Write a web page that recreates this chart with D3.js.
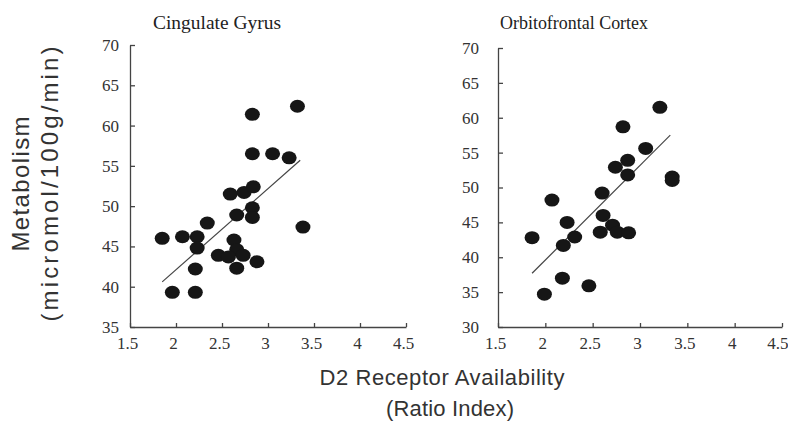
<!DOCTYPE html>
<html lang="en">
<head>
<meta charset="UTF-8">
<title>D2 Receptor Availability vs Metabolism</title>
<script src="https://d3js.org/d3.v7.min.js"></script>
<style>
  body { margin: 0; background: #fff; }
  .tick text { font-family: "Liberation Serif", serif; font-size: 17px; fill: #333; }
  .axis path, .axis line { stroke: #444; stroke-width: 1.3; }
  .title { font-family: "Liberation Serif", serif; font-size: 18px; fill: #222; }
  .label { font-family: "Liberation Sans", sans-serif; font-size: 22px; fill: #333; }
  .ylabel { font-family: "Liberation Sans", sans-serif; font-size: 24px; fill: #333; }
</style>
</head>
<body>
<script>
// data
var xTicks = [1.5, 2, 2.5, 3, 3.5, 4, 4.5];

var cingX = [2.83, 3.32, 2.83, 3.05, 3.23, 2.74, 2.84, 2.59, 2.66, 2.83, 2.83, 3.38, 1.85, 2.07, 2.23, 2.34,
             2.23, 2.21, 1.96, 2.21, 2.46, 2.63, 2.66, 2.73, 2.66, 2.88, 2.57];
var cingY = [61.4, 62.4, 56.5, 56.5, 56.0, 51.7, 52.4, 51.5, 48.9, 49.8, 48.6, 47.4, 46.0, 46.2, 46.2, 47.9,
             44.8, 42.2, 39.3, 39.3, 43.9, 45.8, 44.6, 43.9, 42.3, 43.1, 43.7];
var cingLine = [[1.85, 40.6], [3.35, 55.7]];

var orbX = [3.21, 2.82, 3.06, 2.87, 2.74, 3.34, 2.87, 3.34, 2.60, 2.07, 2.23, 2.31, 2.19, 1.86,
            2.61, 2.58, 2.71, 2.76, 2.88, 2.18, 2.46, 1.99];
var orbY = [61.5, 58.7, 55.6, 53.9, 52.9, 51.5, 51.8, 51.0, 49.2, 48.2, 45.0, 42.9, 41.7, 42.8,
            46.0, 43.6, 44.6, 43.6, 43.5, 37.0, 35.9, 34.7];
var orbLine = [[1.86, 37.7], [3.32, 57.5]];

var svg = d3.select("body").append("svg")
    .attr("width", 788)
    .attr("height", 424);

function panel(opt) {
    var x = d3.scaleLinear().domain([1.5, 4.5]).range([opt.left, opt.right]);
    var y = d3.scaleLinear().domain(opt.yDomain).range([327, opt.top]);
    var g = svg.append("g");

    g.append("g").attr("class", "axis")
        .attr("transform", "translate(0,327)")
        .call(d3.axisTop(x).tickValues(xTicks).tickSize(4).tickSizeOuter(0).tickFormat(d3.format("")))
        .call(function(a) {
            a.selectAll("text").attr("y", 22).attr("dy", "0").attr("x", -3);
            // last label sits at the page edge, keep it inside
            if (opt.lastEnd) a.selectAll("text").filter(function(d) { return d === 4.5; })
                .attr("text-anchor", "end").attr("x", 6);
        });

    g.append("g").attr("class", "axis")
        .attr("transform", "translate(" + opt.left + ",0)")
        .call(d3.axisRight(y).tickValues(opt.yTicks).tickSize(5).tickSizeOuter(0))
        .call(function(a) {
            a.selectAll("text").attr("x", -opt.gap).attr("text-anchor", "end");
        });

    g.append("line")
        .attr("x1", x(opt.line[0][0])).attr("y1", y(opt.line[0][1]))
        .attr("x2", x(opt.line[1][0])).attr("y2", y(opt.line[1][1]))
        .attr("stroke", "#444").attr("stroke-width", 1.2);

    g.selectAll("ellipse").data(d3.zip(opt.xs, opt.ys)).enter().append("ellipse")
        .attr("cx", function(d) { return x(d[0]); })
        .attr("cy", function(d) { return y(d[1]); })
        .attr("rx", 7.5).attr("ry", 6.5)
        .attr("fill", "#161616");

    g.append("text").attr("class", "title")
        .attr("x", opt.titleX).attr("y", 29)
        .attr("textLength", opt.titleW).attr("lengthAdjust", "spacingAndGlyphs")
        .text(opt.title);
}

panel({ left: 130, right: 406, top: 45, yDomain: [35, 70], yTicks: [35, 40, 45, 50, 55, 60, 65, 70],
        xs: cingX, ys: cingY, line: cingLine, gap: 11,
        title: "Cingulate Gyrus", titleX: 153, titleW: 128 });
panel({ left: 498, right: 782, top: 48, yDomain: [30, 70], yTicks: [30, 35, 40, 45, 50, 55, 60, 65, 70],
        xs: orbX, ys: orbY, line: orbLine, gap: 19, lastEnd: true,
        title: "Orbitofrontal Cortex", titleX: 500, titleW: 148 });

svg.append("text").attr("class", "ylabel")
    .attr("transform", "translate(29,184) rotate(-90)")
    .attr("text-anchor", "middle")
    .attr("textLength", 135).attr("lengthAdjust", "spacing")
    .text("Metabolism");
svg.append("text").attr("class", "ylabel")
    .attr("transform", "translate(58,184) rotate(-90)")
    .attr("text-anchor", "middle")
    .attr("textLength", 275).attr("lengthAdjust", "spacing")
    .text("(micromol/100g/min)");

svg.append("text").attr("class", "label")
    .attr("x", 442).attr("y", 385).attr("text-anchor", "middle")
    .attr("textLength", 245).attr("lengthAdjust", "spacing")
    .text("D2 Receptor Availability");
svg.append("text").attr("class", "label")
    .attr("x", 450).attr("y", 416).attr("text-anchor", "middle")
    .attr("textLength", 128).attr("lengthAdjust", "spacing")
    .text("(Ratio Index)");
</script>
</body>
</html>
